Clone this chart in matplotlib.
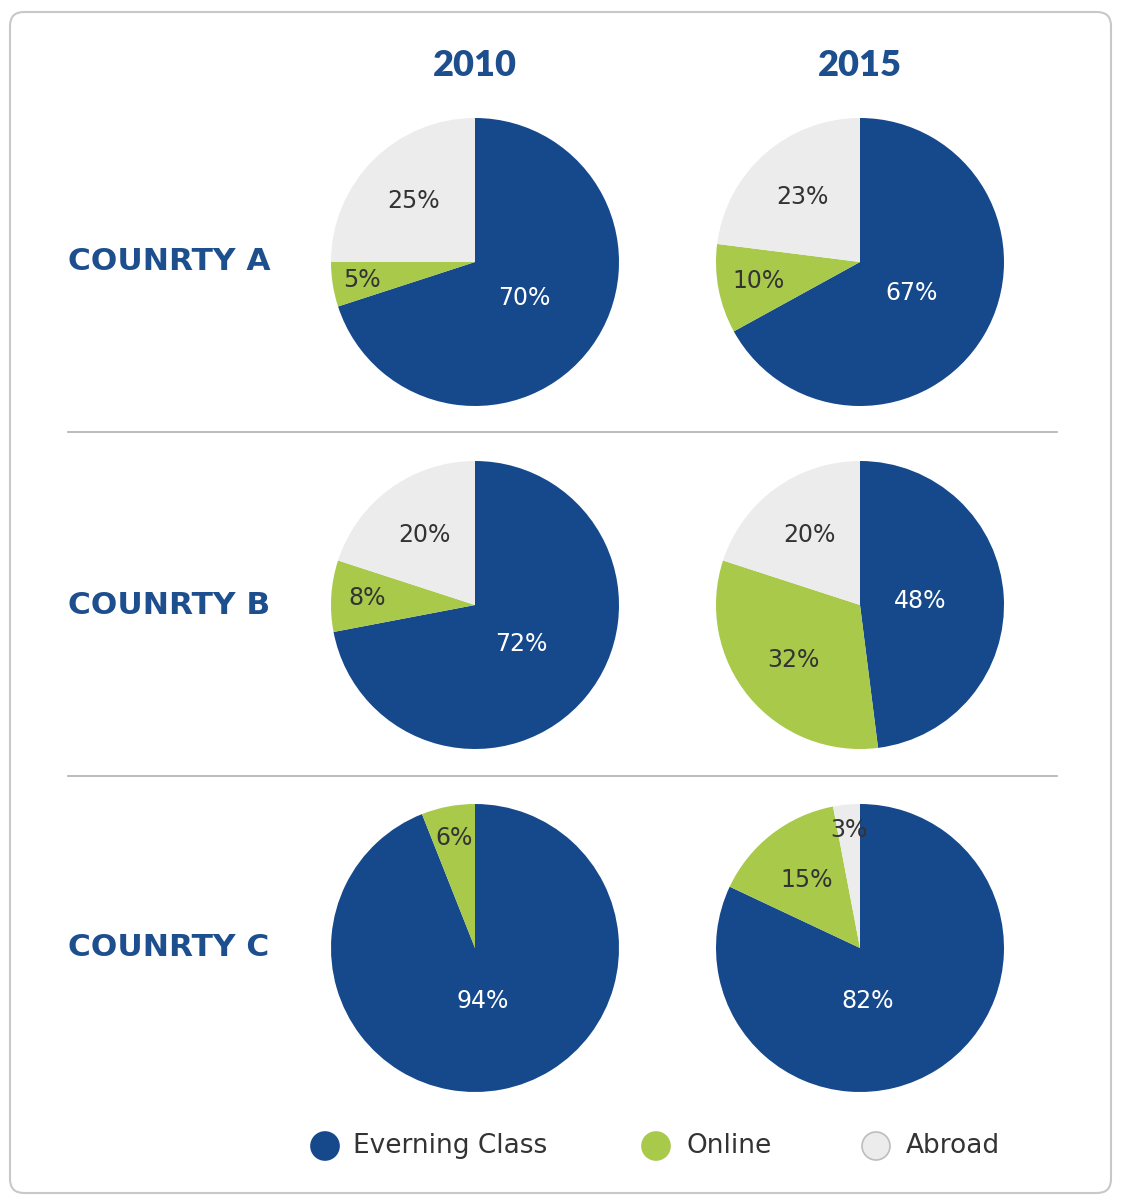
import numpy as np
import matplotlib.pyplot as plt
from matplotlib.patches import FancyBboxPatch, Circle

# data
years = ['2010', '2015']
countries = ['COUNRTY A', 'COUNRTY B', 'COUNRTY C']
categories = ['Everning Class', 'Online', 'Abroad']
evening = [[70, 67], [72, 48], [94, 82]]
online = [[5, 10], [8, 32], [6, 15]]
abroad = [[25, 23], [20, 20], [0, 3]]

colors = ['#16498c', '#a8c94a', '#ececec']
text_colors = ['white', '#333333', '#333333']
navy = '#1d4f8f'

W, H = 1121, 1197
fig = plt.figure(figsize=(W / 100, H / 100), dpi=100)

# background axes in pixel coordinates
bg = fig.add_axes([0, 0, 1, 1])
bg.set_xlim(0, W)
bg.set_ylim(H, 0)
bg.axis('off')
bg.add_patch(FancyBboxPatch((10, 12), W - 20, H - 16, boxstyle='round,pad=0,rounding_size=14',
                            facecolor='white', edgecolor='#c8c8c8', linewidth=1.5))

col_x = [475, 860]
row_y = [262, 605, 948]
R = 144

for j, yr in enumerate(years):
    bg.text(col_x[j], 66, yr, ha='center', va='center', fontsize=26, fontweight='heavy',
            color=navy, family=['Lato', 'DejaVu Sans'])

for i, c in enumerate(countries):
    bg.text(169, row_y[i], c, ha='center', va='center', fontsize=22.5, fontweight='bold',
            color=navy, family=['DejaVu Sans'])

for y in [432, 776]:
    bg.plot([68, 1057], [y, y], color='#b0b0b0', linewidth=1.2)

for i in range(3):
    for j in range(2):
        vals = [evening[i][j], online[i][j], abroad[i][j]]
        ax = fig.add_axes([(col_x[j] - R) / W, 1 - (row_y[i] + R) / H, 2 * R / W, 2 * R / H])
        keep = [k for k in range(3) if vals[k] > 0]
        wedges, _ = ax.pie([vals[k] for k in keep], colors=[colors[k] for k in keep],
                           startangle=90, counterclock=False, radius=1,
                           wedgeprops=dict(linewidth=0))
        ax.set_xlim(-1, 1)
        ax.set_ylim(-1, 1)
        ax.set_aspect('equal')
        ax.axis('off')
        for w, k in zip(wedges, keep):
            p = vals[k]
            mid = np.deg2rad((w.theta1 + w.theta2) / 2)
            if p >= 40:
                r = 0.42
            elif p >= 15:
                r = 0.6
            else:
                r = 0.87 - p * 0.015
            dx, dy = r * np.cos(mid), r * np.sin(mid)
            if p >= 80:
                dx, dy = 0.05, -0.37
            ax.text(dx, dy, f'{p}%', ha='center', va='center', fontsize=17,
                    color=text_colors[k], family=['DejaVu Sans'])

# legend
leg_x = [325, 656, 876]
txt_x = [353, 687, 906]
for k, cat in enumerate(categories):
    ec = '#bdbdbd' if k == 2 else colors[k]
    bg.add_patch(Circle((leg_x[k], 1146), 14, facecolor=colors[k], edgecolor=ec, linewidth=1.2))
    bg.text(txt_x[k], 1146, cat, ha='left', va='center', fontsize=19, color='#333333',
            family=['DejaVu Sans'])

fig.savefig('out.png', dpi=100)
